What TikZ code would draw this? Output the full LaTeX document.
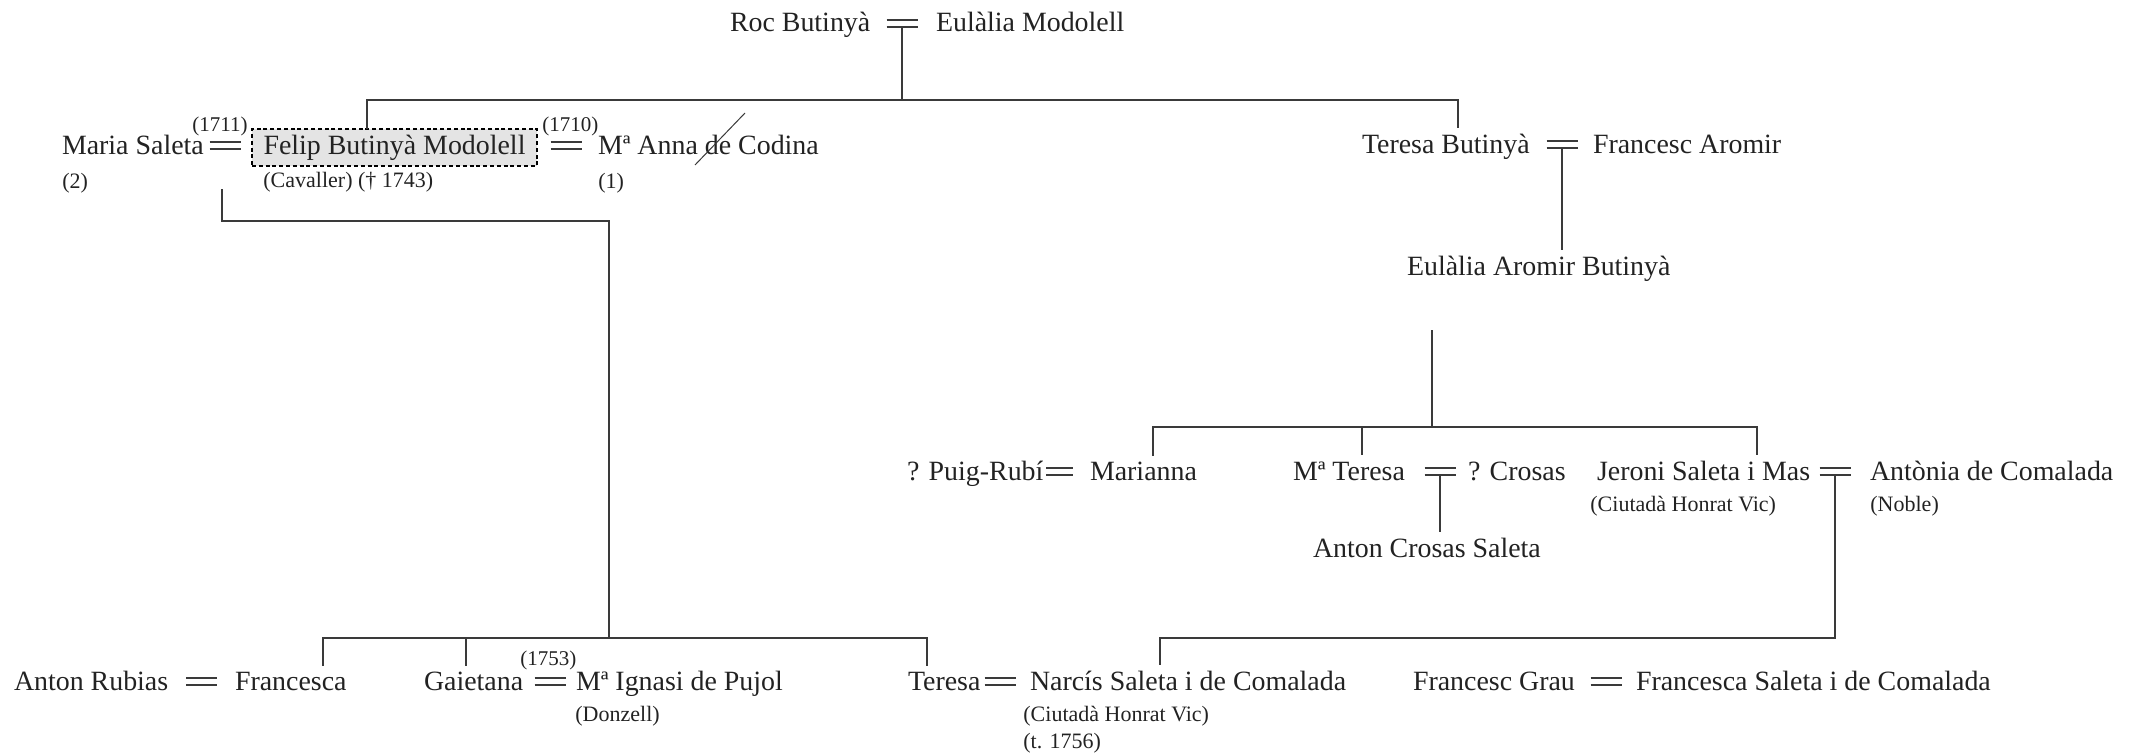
\documentclass[tikz,border=0pt]{standalone}
\usepackage{fontspec}
\setmainfont{Liberation Serif}
\definecolor{ink}{HTML}{222222}
\definecolor{ln}{HTML}{3A3A3A}
\definecolor{boxfill}{HTML}{E4E4E4}
\begin{document}
\begin{tikzpicture}[x=0.5pt,y=-0.5pt,
  nm/.style={anchor=base west, inner xsep=0pt, inner ysep=3pt, outer sep=0pt, text=ink, font=\fontsize{13.95}{16}\selectfont},
  sm/.style={anchor=base west, inner sep=0pt, text=ink, font=\fontsize{11}{13}\selectfont},
  yr/.style={anchor=base west, inner sep=0pt, text=ink, font=\fontsize{10.5}{12}\selectfont},
  marrline/.style={draw=ln, line width=0.7pt},
  marr/.style={minimum width=15.5pt, minimum height=3.5pt, inner sep=0pt, outer sep=0pt,
    append after command={(\tikzlastnode.north west) edge[marrline] (\tikzlastnode.north east)
                          (\tikzlastnode.south west) edge[marrline] (\tikzlastnode.south east)}},
  conn/.style={draw=ln, line width=0.65pt},
  felipbox/.style={draw=black, dashed, dash pattern=on 2pt off 1.4pt, line width=0.55pt, fill=boxfill,
    minimum width=142.5pt, minimum height=18.5pt, inner sep=0pt, outer sep=0pt, text=ink,
    font=\fontsize{13.95}{16}\selectfont}
]
\useasboundingbox (0,0) rectangle (2131,755);

% generation 0
\node[nm] (roc) at (730,32) {Roc Butinyà};
\node[marr] (m0) at (902,23.5) {};
\node[nm] (eul) at (936,32) {Eulàlia Modolell};

% generation 1
\node[nm] (maria) at (62,154) {Maria Saleta};
\node[sm] (n2) at (62,188) {(2)};
\node[yr] (y1711) at (192,131) {(1711)};
\node[marr] (m1) at (225,145.5) {};
\node[felipbox] (felip) at (394.5,147.5) {Felip Butinyà Modolell};
\node[sm] (cav) at (263,187) {(Cavaller) († 1743)};
\node[yr] (y1710) at (542,131) {(1710)};
\node[marr] (m2) at (566,145.5) {};
\node[nm] (anna) at (598,154) {Mª Anna de Codina};
\node[sm] (n1) at (598,188) {(1)};
\coordinate (s1) at (745,113);
\coordinate (s2) at (695,165);
\draw[draw=ln, line width=0.5pt] (s1) -- (s2);

\node[nm] (tb) at (1362,153) {Teresa Butinyà};
\node[marr] (m3) at (1562,144.5) {};
\node[nm] (fa) at (1593,153) {Francesc Aromir};
\node[nm] (eab) at (1407,275) {Eulàlia Aromir Butinyà};

% generation 2 (right)
\node[nm] (pr) at (907,480) {? Puig-Rubí};
\node[marr, minimum width=13.5pt] (m4) at (1059.5,471.5) {};
\node[nm] (mar) at (1090,480) {Marianna};
\node[nm] (mt) at (1293,480) {Mª Teresa};
\node[marr] (m5) at (1440,471.5) {};
\node[nm] (cr) at (1468,480) {? Crosas};
\node[nm] (acs) at (1313,557) {Anton Crosas Saleta};
\node[nm] (jer) at (1597,480) {Jeroni Saleta i Mas};
\node[sm] (jerc) at (1590,511) {(Ciutadà Honrat Vic)};
\node[marr] (m6) at (1835,471.5) {};
\node[nm] (ant) at (1870,480) {Antònia de Comalada};
\node[sm] (nob) at (1870,511) {(Noble)};

% generation 3
\node[nm] (ar) at (14,690) {Anton Rubias};
\node[marr] (m7) at (201.5,681.5) {};
\node[nm] (fr) at (235,690) {Francesca};
\node[nm] (gai) at (424,690) {Gaietana};
\node[yr] (y1753) at (520,665) {(1753)};
\node[marr] (m8) at (550,681.5) {};
\node[nm] (ign) at (576,690) {Mª Ignasi de Pujol};
\node[sm] (don) at (575,721) {(Donzell)};
\node[nm] (ter) at (908,690) {Teresa};
\node[marr] (m9) at (1000,681.5) {};
\node[nm] (nar) at (1030,690) {Narcís Saleta i de Comalada};
\node[sm] (narc) at (1023,721) {(Ciutadà Honrat Vic)};
\node[sm] (nart) at (1023,748) {(t. 1756)};
\node[nm] (fg) at (1413,690) {Francesc Grau};
\node[marr] (m10) at (1606,681.5) {};
\node[nm] (fsc) at (1636,690) {Francesca Saleta i de Comalada};

% connectors: Roc = Eulalia
\coordinate (hl) at (367,100);
\coordinate (hr) at (1458,100);
\draw[conn] (m0.south) -- (m0.south |- hl);
\draw[conn] (hl |- felip.north) -- (hl) -- (hr) -- (hr |- tb.north);

% Teresa = Francesc
\draw[conn] (m3.south) -- (m3.south |- eab.north);

% Eulalia Aromir's children
\coordinate (ma) at (1432,330);
\coordinate (ml) at (1153,427);
\coordinate (mm) at (1362,427);
\coordinate (mr) at (1757,427);
\draw[conn] (ma) -- (ma |- ml);
\draw[conn] (ml |- mar.north) -- (ml) -- (mr) -- (mr |- jer.north);
\draw[conn] (mm) -- (mm |- mt.north);
\draw[conn] (m5.south) -- (m5.south |- acs.north);

% Maria Saleta = Felip children
\coordinate (la) at (222,189);
\coordinate (lb) at (609,221);
\coordinate (bl) at (323,638);
\coordinate (bg) at (466,638);
\coordinate (br) at (927,638);
\draw[conn] (la) |- (lb) -- (lb |- bl);
\draw[conn] (bl |- fr.north) -- (bl) -- (br) -- (br |- ter.north);
\draw[conn] (bg) -- (bg |- gai.north);

% Jeroni = Antonia children
\coordinate (rl) at (1160,638);
\draw[conn] (m6.south) |- (rl) -- (rl |- nar.north);
\end{tikzpicture}
\end{document}
